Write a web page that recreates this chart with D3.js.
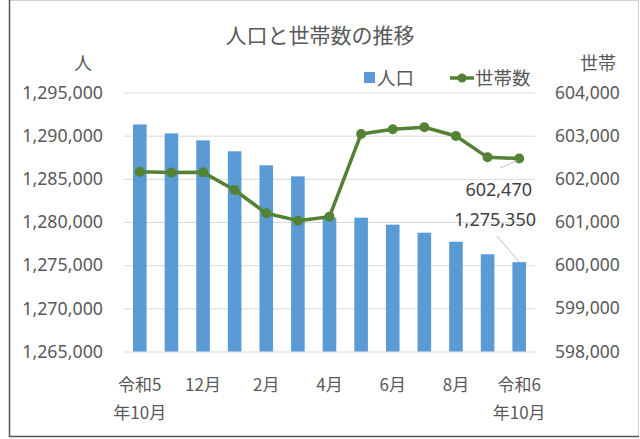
<!DOCTYPE html>
<html>
<head>
<meta charset="utf-8">
<script src="https://cdn.jsdelivr.net/npm/d3@7"></script>
<style>
  html, body { margin: 0; padding: 0; background: #fff; }
  svg { display: block; font-family: "Noto Sans CJK JP", "Noto Sans", sans-serif; }
</style>
</head>
<body>
<svg id="chart" width="640" height="439"></svg>
<script>
// months shown on the x axis ("\n" = line break in the label)
var months = ["令和5\n年10月", "11月", "12月", "1月", "2月", "3月", "4月",
              "5月", "6月", "7月", "8月", "9月", "令和6\n年10月"];
// 人口 (bars, left axis)
var population = [1291300, 1290270, 1289460, 1288190, 1286570, 1285290, 1280500,
                  1280500, 1279690, 1278760, 1277720, 1276260, 1275350];
// 世帯数 (line, right axis)
var households = [602166, 602145, 602150, 601742, 601201, 601031, 601124,
                  603039, 603147, 603194, 602992, 602498, 602470];
var leftTicks = [1265000, 1270000, 1275000, 1280000, 1285000, 1290000, 1295000];
var rightTicks = [598000, 599000, 600000, 601000, 602000, 603000, 604000];

var svg = d3.select("#chart");
var textColor = "#595959";
var barColor = "#5B9BD5";
var lineColor = "#548235";
var numFont = "'Noto Sans', 'Noto Sans CJK JP', sans-serif";

// frame
svg.append("rect").attr("x", 9.5).attr("y", 0.5).attr("width", 629).attr("height", 436)
  .attr("fill", "none").attr("stroke", "#d0d0d0");
svg.append("path").attr("d", "M9.5,0 V436.5 H639")
  .attr("fill", "none").attr("stroke", "#555").attr("stroke-width", 1.5);

var x = d3.scaleBand().domain(d3.range(months.length)).range([124, 535])
  .paddingInner(0.57).paddingOuter(0.285);
var yL = d3.scaleLinear().domain([1265000, 1295000]).range([351.5, 92.5]);
var yR = d3.scaleLinear().domain([598000, 604000]).range([351.5, 92.5]);

// left axis + gridlines
var gL = svg.append("g").attr("transform", "translate(124,0)")
  .call(d3.axisLeft(yL).tickValues(leftTicks).tickSize(-411).tickPadding(21)
    .tickFormat(d3.format(",")));
gL.select(".domain").remove();
gL.selectAll("line").attr("stroke", "#d9d9d9");
gL.selectAll("text").attr("fill", textColor).style("font-size", "17.8px")
  .style("font-family", numFont);

// right axis
var gR = svg.append("g").attr("transform", "translate(535,0)")
  .call(d3.axisRight(yR).tickValues(rightTicks).tickSize(0).tickPadding(20)
    .tickFormat(d3.format(",")));
gR.select(".domain").remove();
gR.selectAll("text").attr("fill", textColor).style("font-size", "17.5px")
  .style("font-family", numFont);

// bars
svg.append("g").selectAll("rect").data(population).enter().append("rect")
  .attr("x", function(d, i) { return x(i); })
  .attr("y", function(d) { return yL(d); })
  .attr("width", x.bandwidth())
  .attr("height", function(d) { return yL(1265000) - yL(d); })
  .attr("fill", barColor);

// household line
var cx = function(d, i) { return x(i) + x.bandwidth() / 2; };
svg.append("path").datum(households)
  .attr("d", d3.line().x(cx).y(function(d) { return yR(d); }))
  .attr("fill", "none").attr("stroke", lineColor).attr("stroke-width", 3.5)
  .attr("stroke-linejoin", "round");
svg.append("g").selectAll("circle").data(households).enter().append("circle")
  .attr("cx", cx).attr("cy", function(d) { return yR(d); })
  .attr("r", 5).attr("fill", lineColor);

// x labels (every other month)
var xl = svg.append("g").selectAll("text").data(months).enter()
  .filter(function(d, i) { return i % 2 === 0; })
  .append("text")
  .attr("x", function(d) { return x(months.indexOf(d)) + x.bandwidth() / 2; })
  .attr("y", 391)
  .attr("text-anchor", "middle").attr("fill", textColor).style("font-size", "17px");
xl.each(function(d) {
  var t = d3.select(this);
  d.split("\n").forEach(function(s, j) {
    t.append("tspan").attr("x", t.attr("x")).attr("dy", j ? 28 : 0).text(s);
  });
});

// data labels for last points
var last = months.length - 1;
var lx = x(last) + x.bandwidth() / 2;
svg.append("line").attr("x1", 500).attr("y1", 168).attr("x2", lx - 2).attr("y2", yR(households[last]) + 2)
  .attr("stroke", "#bfbfbf");
svg.append("text").attr("x", 532).attr("y", 196).attr("text-anchor", "end")
  .attr("fill", "#404040").style("font-size", "18px")
  .style("font-family", numFont)
  .text(d3.format(",")(households[last]));
svg.append("line").attr("x1", 497).attr("y1", 236).attr("x2", lx).attr("y2", yL(population[last]))
  .attr("stroke", "#bfbfbf");
svg.append("text").attr("x", 536).attr("y", 226).attr("text-anchor", "end")
  .attr("fill", "#404040").style("font-size", "18px")
  .style("font-family", numFont)
  .text(d3.format(",")(population[last]));

// title, axis titles
svg.append("text").attr("x", 320).attr("y", 43).attr("text-anchor", "middle")
  .attr("fill", textColor).style("font-size", "21px").text("人口と世帯数の推移");
svg.append("text").attr("x", 83).attr("y", 70).attr("text-anchor", "middle")
  .attr("fill", textColor).style("font-size", "18px").text("人");
svg.append("text").attr("x", 598).attr("y", 70).attr("text-anchor", "middle")
  .attr("fill", textColor).style("font-size", "18px").text("世帯");

// legend
var lg = svg.append("g");
lg.append("rect").attr("x", 364).attr("y", 72).attr("width", 11).attr("height", 11).attr("fill", barColor);
lg.append("text").attr("x", 377).attr("y", 84.5).attr("fill", textColor).style("font-size", "18.5px").text("人口");
lg.append("line").attr("x1", 450).attr("x2", 474).attr("y1", 78).attr("y2", 78)
  .attr("stroke", lineColor).attr("stroke-width", 3.5);
lg.append("circle").attr("cx", 462).attr("cy", 78).attr("r", 4.5).attr("fill", lineColor);
lg.append("text").attr("x", 475).attr("y", 84.5).attr("fill", textColor).style("font-size", "18.5px").text("世帯数");
</script>
</body>
</html>
